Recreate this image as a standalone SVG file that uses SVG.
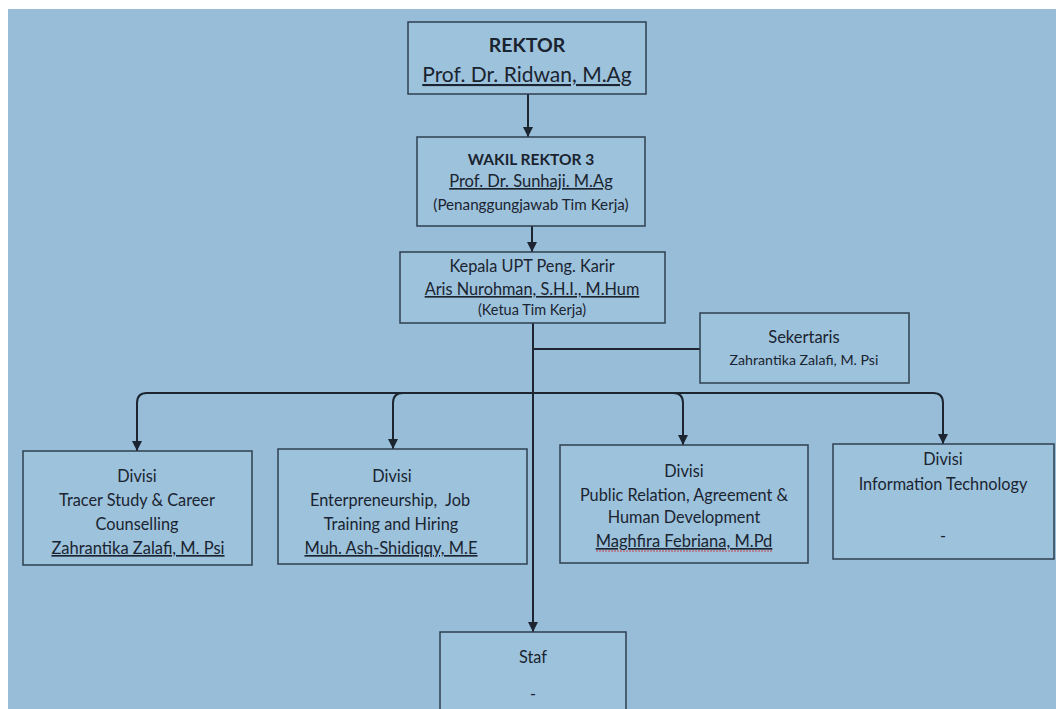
<svg xmlns="http://www.w3.org/2000/svg" width="1056" height="709" viewBox="0 0 1056 709">
<defs>
<marker id="arr" viewBox="0 0 10 10" refX="10" refY="5" markerWidth="10" markerHeight="10" markerUnits="userSpaceOnUse" orient="auto">
<path d="M0,0 L10,5 L0,10 Z" fill="#1c2530"/>
</marker>
</defs>
<style>
.box{fill:#9dc2dc;stroke:#2f3f4f;stroke-width:1.5}
text{font-family:Lato,"Open Sans","Liberation Sans",sans-serif;fill:#1a2430;text-anchor:middle}
.u{text-decoration:underline}
.d{font-size:16.3px}
.n{font-size:16.5px;text-decoration:underline}
.con{fill:none;stroke:#1c2530;stroke-width:2}
</style>
<rect x="0" y="0" width="1056" height="709" fill="#ffffff"/>
<rect x="8" y="9" width="1048" height="700" fill="#97bdd8"/>
<g id="connectors">
<path class="con" d="M528,94 V137" marker-end="url(#arr)"/>
<path class="con" d="M532,226 V252" marker-end="url(#arr)"/>
<path class="con" d="M533,323 V632" marker-end="url(#arr)"/>
<path class="con" d="M533,349 H700"/>
<path class="con" d="M533,393 H147 Q137,393 137,403 V451" marker-end="url(#arr)"/>
<path class="con" d="M533,393 H403 Q393,393 393,403 V449" marker-end="url(#arr)"/>
<path class="con" d="M533,393 H673 Q683,393 683,403 V445" marker-end="url(#arr)"/>
<path class="con" d="M533,393 H933 Q943,393 943,403 V444" marker-end="url(#arr)"/>
</g>
<g id="rektor">
<rect class="box" x="408" y="22" width="238" height="72"/>
<text x="527" y="52" font-size="19.5" font-weight="bold">REKTOR</text>
<text class="u" x="527" y="82" font-size="21">Prof. Dr. Ridwan, M.Ag</text>
</g>
<g id="wakil-rektor">
<rect class="box" x="417" y="137" width="228" height="89"/>
<text x="531" y="165" font-size="15.5" font-weight="bold">WAKIL REKTOR 3</text>
<text class="u" x="531" y="187" font-size="16.5">Prof. Dr. Sunhaji. M.Ag</text>
<text x="531" y="210" font-size="15.2">(Penanggungjawab Tim Kerja)</text>
</g>
<g id="kepala">
<rect class="box" x="400" y="252" width="265" height="71"/>
<text x="532" y="272" font-size="16.3">Kepala UPT Peng. Karir</text>
<text class="u" x="532" y="295" font-size="16.3">Aris Nurohman, S.H.I., M.Hum</text>
<text x="532" y="315" font-size="14.5">(Ketua Tim Kerja)</text>
</g>
<g id="sekertaris">
<rect class="box" x="700" y="313" width="209" height="70"/>
<text x="804" y="343" font-size="16.5">Sekertaris</text>
<text x="804" y="365" font-size="14.2">Zahrantika Zalafi, M. Psi</text>
</g>
<g id="divisi-tracer">
<rect class="box" x="23" y="451" width="229" height="114"/>
<text class="d" x="137" y="482">Divisi</text>
<text class="d" x="137" y="506">Tracer Study &amp; Career</text>
<text class="d" x="137" y="530">Counselling</text>
<text class="n" x="138" y="554">Zahrantika Zalafi, M. Psi</text>
</g>
<g id="divisi-enterpreneurship">
<rect class="box" x="278" y="449" width="249" height="115"/>
<text class="d" x="392" y="482">Divisi</text>
<text class="d" x="390" y="506">Enterpreneurship,&#160;&#160;Job</text>
<text class="d" x="391" y="530">Training and Hiring</text>
<text class="n" x="391" y="554">Muh. Ash-Shidiqqy, M.E</text>
</g>
<g id="divisi-public-relation">
<rect class="box" x="560" y="445" width="248" height="118"/>
<text class="d" x="684" y="477">Divisi</text>
<text class="d" x="684" y="501">Public Relation, Agreement &amp;</text>
<text class="d" x="684" y="523">Human Development</text>
<text class="n" x="684" y="547">Maghfira Febriana, M.Pd</text>
<path d="M596,551 H772" stroke="#c8414b" stroke-width="1" stroke-dasharray="2 1" fill="none"/>
</g>
<g id="divisi-it">
<rect class="box" x="833" y="444" width="221" height="115"/>
<text class="d" x="943" y="465">Divisi</text>
<text class="d" x="943" y="490">Information Technology</text>
<text class="d" x="943" y="542">-</text>
</g>
<g id="staf">
<rect class="box" x="440" y="632" width="186" height="90"/>
<text class="d" x="533" y="663">Staf</text>
<text class="d" x="533" y="700">-</text>
</g>
</svg>
